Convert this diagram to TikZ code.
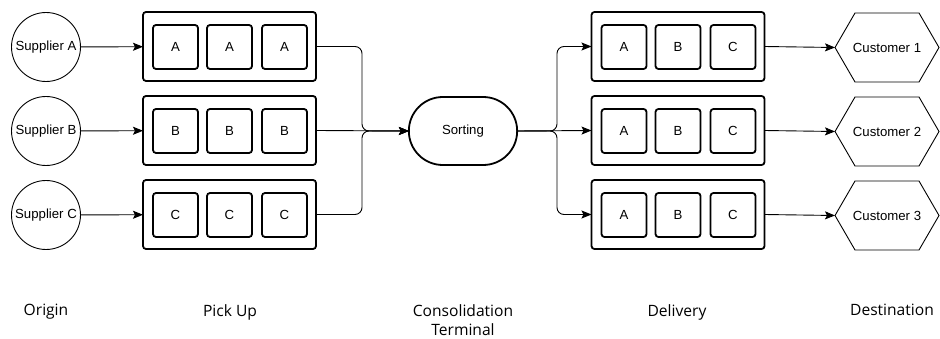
\documentclass[tikz,border=0pt]{standalone}
\usepackage{fontspec}
\setmainfont{Liberation Sans}
\newfontfamily\stagefont{Open Sans}
\usetikzlibrary{arrows.meta}
\usetikzlibrary{shapes.misc}
\usetikzlibrary{calc}

\begin{document}
\begin{tikzpicture}[x=1pt,y=-1pt,
  every node/.style={font=\fontsize{13.2}{15}\selectfont, outer sep=0pt},
  supplier/.style={circle, draw, line width=0.9pt, minimum size=69pt, inner sep=0pt},
  tray/.style={draw, line width=1.8pt, rounded corners=3pt, minimum width=173pt, minimum height=69pt},
  parcel/.style={draw, line width=1.8pt, rounded corners=3pt, minimum width=45pt, minimum height=44pt},
  hub/.style={rounded rectangle, draw, line width=1.8pt, minimum width=115pt, minimum height=68pt},
  customer/.style={minimum width=104pt, minimum height=69pt},
  stage/.style={font=\stagefont\fontsize{15.6}{19}\selectfont, align=center, anchor=north},
  flow/.style={line width=0.9pt, -{Stealth[length=10pt,width=8pt,inset=2pt]}},
  merge/.style={flow, rounded corners=7pt}]
\useasboundingbox (0,0) rectangle (940,339);

\node[supplier] (sA) at (46,47) {Supplier A};
\node[supplier] (sB) at (46,131) {Supplier B};
\node[supplier] (sC) at (46,215) {Supplier C};

\node[tray] (pA) at (229.5,46.5) {};
\node[tray] (pB) at (229.5,130.5) {};
\node[tray] (pC) at (229.5,214.5) {};
\node[parcel] (pA1) at ($(pA)+(-54,0.5)$) {A};
\node[parcel] (pA2) at ($(pA)+(0,0.5)$) {A};
\node[parcel] (pA3) at ($(pA)+(55,0.5)$) {A};
\node[parcel] (pB1) at ($(pB)+(-54,0.5)$) {B};
\node[parcel] (pB2) at ($(pB)+(0,0.5)$) {B};
\node[parcel] (pB3) at ($(pB)+(55,0.5)$) {B};
\node[parcel] (pC1) at ($(pC)+(-54,0.5)$) {C};
\node[parcel] (pC2) at ($(pC)+(0,0.5)$) {C};
\node[parcel] (pC3) at ($(pC)+(55,0.5)$) {C};

\node[hub] (srt) at (463,131) {Sorting};

\node[tray] (dA) at (678,46.5) {};
\node[tray] (dB) at (678,130.5) {};
\node[tray] (dC) at (678,214.5) {};
\node[parcel] (dA1) at ($(dA)+(-54,0.5)$) {A};
\node[parcel] (dA2) at ($(dA)+(0,0.5)$) {B};
\node[parcel] (dA3) at ($(dA)+(55,0.5)$) {C};
\node[parcel] (dB1) at ($(dB)+(-54,0.5)$) {A};
\node[parcel] (dB2) at ($(dB)+(0,0.5)$) {B};
\node[parcel] (dB3) at ($(dB)+(55,0.5)$) {C};
\node[parcel] (dC1) at ($(dC)+(-54,0.5)$) {A};
\node[parcel] (dC2) at ($(dC)+(0,0.5)$) {B};
\node[parcel] (dC3) at ($(dC)+(55,0.5)$) {C};

\node[customer] (c1) at (887,47.5) {Customer 1};
\node[customer] (c2) at (887,131.5) {Customer 2};
\node[customer] (c3) at (887,215.5) {Customer 3};
\foreach \c in {c1,c2,c3}
  \draw[line width=0.9pt] (\c.west) -- ($(\c.north west)+(20,0)$) -- ($(\c.north east)+(-20,0)$)
    -- (\c.east) -- ($(\c.south east)+(-20,0)$) -- ($(\c.south west)+(20,0)$) -- cycle;

\draw[flow] (sA) -- (pA);
\draw[flow] (sB) -- (pB);
\draw[flow] (sC) -- (pC);

\draw[merge] (pA.east) -- (362,46.5) -- (362,131) -- (srt.west);
\draw[merge] (pB.east) -- (srt.west);
\draw[merge] (pC.east) -- (362,214.5) -- (362,131) -- (srt.west);

\draw[merge] (srt.east) -- (557,131) -- (557,46.5) -- (dA.west);
\draw[merge] (srt.east) -- (dB.west);
\draw[merge] (srt.east) -- (557,131) -- (557,214.5) -- (dC.west);

\draw[flow] (dA.east) -- (c1.west);
\draw[flow] (dB.east) -- (c2.west);
\draw[flow] (dC.east) -- (c3.west);

\node[stage] (lo) at (46,301) {Origin};
\node[stage] (lp) at (230,301) {Pick Up};
\node[stage] (lt) at (463,301) {Consolidation\\Terminal};
\node[stage] (ld) at (677,301) {Delivery};
\node[stage] (le) at (892,301) {Destination};
\end{tikzpicture}
\end{document}
